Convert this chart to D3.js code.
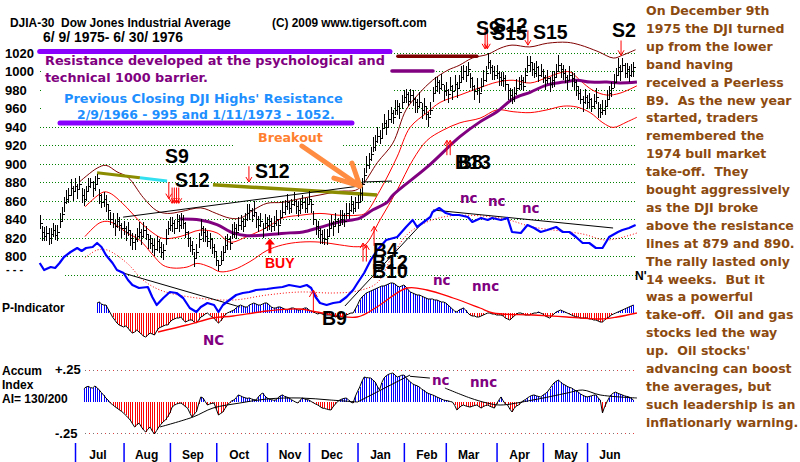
<!DOCTYPE html>
<html>
<head>
<meta charset="utf-8">
<script src="https://cdn.jsdelivr.net/npm/d3@7"></script>
<style>
  body { margin: 0; background: #fff; }
  svg { display: block; }
</style>
</head>
<body>
<div id="chart"></div>
<script>
// ---- data: DJIA daily bars, 6/9/1975 - 6/30/1976 ----
const monthNames = ['Jul', 'Aug', 'Sep', 'Oct', 'Nov', 'Dec', 'Jan', 'Feb', 'Mar', 'Apr', 'May', 'Jun'];
const monthDays = [16, 22, 21, 21, 23, 19, 22, 21, 19, 23, 21, 20, 22]; // trading days Jun75 .. Jun76
const priceTicks = [1020, 1000, 980, 960, 940, 920, 900, 880, 860, 840, 820, 800];

const closes = [
  836, 826, 822, 825, 820, 824, 828, 823, 826, 838, 845, 858, 862, 866, 873, 870,
  876, 872, 878, 866, 862, 870, 876, 880, 874, 878, 884, 866, 858, 862, 856, 850, 840, 836, 832, 838, 834, 830,
  830, 826, 828, 820, 815, 818, 822, 826, 822, 828, 824, 818, 814, 812, 808, 816, 810, 804, 806, 820, 830,
  834, 836, 830, 838, 834, 840, 836, 826, 820, 812, 808, 798, 804, 818, 830, 826, 822, 816, 818, 810, 805,
  796, 790, 796, 804, 812, 818, 814, 824, 830, 826, 834, 838, 832, 840, 846, 850, 844, 848, 840, 834, 838, 830, 836,
  834, 838, 832, 836, 840, 834, 842, 848, 854, 858, 852, 856, 860, 854, 850, 856, 858, 852, 856,
  862, 856, 840, 832, 828, 824, 820, 818, 822, 830, 836, 832, 838, 834, 840, 844, 838, 846, 850, 856, 852, 858,
  858, 868, 878, 888, 898, 905, 910, 918, 924, 930, 928, 938, 944, 940, 948, 955, 950, 958, 962, 956, 966,
  972, 975, 968, 974, 970, 966, 962, 966, 958, 962, 954, 950, 958, 976, 984, 988, 982, 986, 978,
  980, 975, 984, 978, 986, 982, 988, 994, 1000, 996, 1002, 992, 984, 978, 982, 976, 984, 990, 998, 1010, 1004, 1000, 996,
  998, 994, 990, 992, 986, 980, 974, 970, 976, 982, 986, 990, 984, 996, 1006, 1010, 1002, 998, 1004, 996, 1000,
  994, 990, 992, 986, 990, 994, 1000, 1006, 1002, 998, 994, 990, 996, 992, 988, 984, 976, 970, 966, 972,
  966, 970, 962, 968, 972, 960, 956, 958, 962, 970, 976, 982, 988, 996, 1004, 1000, 1006, 998, 1002, 996, 1000, 1004
];
const highs = [
  844, 832, 831, 832, 830, 830, 836, 834, 833, 847, 853, 864, 871, 873, 883, 876,
  884, 878, 887, 873, 872, 876, 884, 884, 881, 887, 889, 872, 867, 869, 866, 856, 848, 847, 839, 847, 842, 836,
  838, 832, 837, 827, 825, 824, 830, 837, 829, 837, 832, 824, 823, 819, 818, 822, 818, 815, 813, 829, 838,
  842, 842, 839, 845, 844, 846, 844, 837, 827, 821, 816, 804, 813, 825, 840, 832, 830, 827, 825, 819, 813,
  804, 796, 805, 811, 822, 824, 822, 835, 837, 835, 842, 844, 841, 847, 856, 856, 852, 859, 847, 843, 846, 836, 845,
  842, 844, 841, 843, 850, 840, 850, 859, 861, 867, 860, 862, 869, 861, 860, 862, 866, 863, 863,
  870, 862, 849, 839, 838, 830, 828, 829, 829, 839, 844, 838, 847, 841, 850, 850, 846, 857, 857, 865, 860, 864,
  866, 874, 884, 895, 908, 911, 918, 929, 931, 939, 936, 944, 953, 947, 958, 961, 958, 969, 969, 965, 974,
  980, 981, 977, 981, 980, 972, 970, 977, 965, 971, 962, 956, 967, 983, 994, 994, 990, 997, 985,
  988, 981, 993, 985, 996, 988, 996, 1005, 1007, 1005, 1010, 998, 993, 985, 992, 982, 992, 1001, 1005, 1019, 1012, 1006, 1005,
  1006, 1000, 999, 999, 996, 986, 982, 981, 983, 991, 994, 996, 993, 1003, 1016, 1016, 1010, 1009, 1011, 1005, 1008,
  1002, 996, 1001, 993, 1000, 1000, 1008, 1017, 1009, 1007, 1002, 996, 1005, 999, 998, 990, 984, 981, 973, 981,
  974, 976, 971, 975, 982, 966, 964, 969, 969, 979, 984, 988, 997, 1003, 1014, 1006, 1014, 1009, 1009, 1005, 1008, 1010
];
const lows = [
  829, 816, 816, 816, 812, 813, 821, 817, 816, 830, 838, 848, 856, 857, 865, 859,
  869, 862, 872, 857, 854, 859, 869, 874, 864, 870, 877, 856, 852, 853, 848, 839, 833, 830, 822, 830, 827, 820,
  823, 816, 822, 811, 807, 807, 815, 820, 812, 820, 817, 808, 808, 803, 800, 805, 803, 798, 796, 812, 823,
  827, 826, 824, 829, 826, 829, 829, 820, 810, 804, 801, 788, 798, 809, 822, 815, 815, 810, 808, 802, 798,
  789, 784, 790, 795, 804, 807, 807, 818, 820, 818, 827, 828, 826, 831, 838, 839, 837, 842, 830, 826, 831, 820, 830,
  827, 828, 826, 827, 832, 823, 835, 842, 844, 850, 845, 846, 854, 845, 842, 845, 851, 846, 846,
  855, 846, 834, 823, 820, 813, 813, 812, 812, 822, 829, 822, 832, 825, 832, 833, 831, 840, 840, 848, 845, 848,
  851, 858, 860, 879, 890, 894, 903, 912, 914, 922, 921, 928, 938, 931, 940, 944, 943, 952, 952, 948, 959,
  965, 965, 962, 965, 962, 955, 955, 960, 948, 954, 947, 940, 952, 967, 976, 977, 975, 980, 968,
  973, 965, 978, 969, 978, 971, 981, 988, 990, 988, 995, 982, 978, 969, 974, 965, 977, 984, 988, 1002, 997, 990, 990,
  991, 984, 984, 983, 978, 969, 967, 964, 966, 974, 979, 980, 978, 987, 998, 999, 995, 992, 994, 988, 993,
  987, 980, 986, 977, 982, 983, 993, 1000, 992, 990, 987, 980, 990, 983, 980, 973, 969, 964, 956, 964,
  959, 960, 956, 959, 964, 949, 949, 952, 952, 962, 969, 972, 982, 987, 996, 989, 999, 992, 992, 988, 993, 994
];

// bands on the price panel: [trading day, price]
const upperBand = [[18,880],[26,895],[30,898],[35,891],[40,885],[47,863],[53,849],[58,846],[64,848],[73,852],[80,846],[86,841],[91,841],[97,850],[103,857],[110,858],[118,862],[127,866],[136,870],[143,871],[146,876],[153,901],[160,922],[166,958],[172,976],[178,990],[185,1001],[190,1006],[196,1014],[203,1018],[209,1025],[214,1028],[222,1026],[230,1030],[239,1031],[245,1028],[253,1021],[260,1014],[264,1017],[270,1023]];
const redUpper = [[20.5,853],[28.7,869],[31.8,868],[39.6,852],[45.4,837],[51.3,825],[55.9,819],[63.6,821],[72.6,828],[80.3,825],[86.2,815],[93.9,821],[103,831],[110,841],[118,844],[127,846],[136,844],[143.8,844],[147.4,846],[154.2,871],[161.9,907],[167.8,939],[175.5,955],[181.4,966],[190.4,974],[199.5,982],[207.2,988],[214.5,990],[222.2,987],[229.9,993],[235.7,998],[240.3,999],[244.8,990],[250.7,979],[257,974],[262.9,976],[270.6,984]];
const redLower = [[20.5,821],[27.3,836],[31.8,837],[39.6,825],[45.4,817],[51.3,801],[55.9,790],[60.4,787],[66.7,788],[71.3,792],[77.2,788],[81.7,783],[87.6,785],[95.3,794],[103,806],[110,812],[118,815],[127,815],[136,812],[143.8,810],[147.4,812],[154.2,839],[161.9,871],[169.1,904],[175.5,925],[182.7,936],[190.4,944],[199.5,949],[207.2,958],[214.5,956],[222.2,955],[229.9,958],[237.2,962],[243.5,961],[249.4,955],[255.2,944],[259.8,939],[266.1,945],[270.6,950]];
const ma65 = [[63.6,840],[72.6,839],[80.3,834],[87.6,825],[93.9,822],[103,823],[113.4,825],[119.3,826],[127,831],[136,837],[145.1,841],[151,850],[157.4,858],[160.1,866],[175.5,896],[190.4,929],[199.5,945],[207.2,956],[214.5,970],[222.2,977],[229.9,985],[237.2,988],[243.5,990],[249.4,988],[257,988],[262.9,987],[270.6,988]];
const resistA = [[26,890],[45.4,884.5]];
const resistCyan = [[45.4,884.5],[57.7,881]];
const resistB = [[78.5,877],[127,870],[152.8,866]];
const trendHighs = [[37.8,842],[146,876]];
const breakoutLine = [[146,880],[159.6,881]];
const levelLines = [
  { i0: 0, i1: 158.7, p: 1021, color: '#8a00ff', w: 5 },
  { i0: 9.2, i1: 141.5, p: 943.8, color: '#8a00ff', w: 5 },
  { i0: 162.3, i1: 198.1, p: 1016, color: '#800000', w: 3.5 },
  { i0: 159.6, i1: 178.2, p: 1000, color: '#800080', w: 3.5 }
];

// blue strength line under the price bars: [trading day, value]
const blueLine = [[0,37],[2,30],[5,33],[7,32],[9,37],[11,43],[14,48],[17,52],[19,49],[21,52],[24,53],[26,57],[28,53],[30,45],[33,37],[35,30],[38,27],[40,20],[42,15],[45,12],[49,13],[51,3],[53,-5],[56,2],[59,8],[62,7],[65,2],[68,-8],[71,-12],[73,-7],[76,-3],[79,-5],[81,-12],[83,-5],[86,0],[89,5],[92,7],[95,8],[98,10],[103,11],[106,12],[110,13],[113,15],[118,13],[121,15],[123,12],[125,3],[127,-3],[130,-5],[133,-3],[136,-2],[139,3],[142,10],[144,17],[147,27],[150,40],[153,50],[157,60],[162,63],[166,73],[169,80],[171,73],[174,78],[177,83],[178,88],[181,92],[184,87],[187,85],[190,85],[194,83],[196,78],[200,82],[203,80],[205,82],[209,80],[212,82],[214,68],[218,67],[221,75],[224,72],[227,68],[230,70],[234,73],[237,68],[240,68],[243,63],[246,57],[249,57],[252,52],[255,52],[258,63],[262,68],[264,70],[267,72],[270,75]];
const blueMA = [[20.5,42],[26,50],[30.5,50],[39.5,37],[46.8,20],[54.5,10],[68,3],[87.6,0],[103,5],[118,8],[133,7],[143.8,9],[152.8,17],[160,45],[167.8,68],[182.7,83],[208.6,82],[223.5,73],[246,66],[256.7,60],[270.6,67]];
const blueTrends = [
  [[37.8,27],[90.8,-7]],
  [[138.3,-6],[174.6,80]],
  [[178.2,90],[259.8,72]]
];

// P-Indicator, daily from trading day 26
const pStart = 26;
const pInd = [
  10, 11, 9, 8, 8, 4, 0, -4, -7, -10,
  -12, -13, -14, -13, -15, -18, -20, -19, -17, -19,
  -21, -23, -24, -22, -20, -21, -22, -18, -15, -14,
  -13, -12, -12, -9, -7, -6, -5, -5, -4, -7,
  -9, -8, -7, -7, -9, -10, -7, -4, -3, -1,
  0, -2, -4, -5, -8, -10, -8, -5, -2, 0,
  1, 2, 3, 5, 7, 8, 7, 6, 6, 8,
  9, 10, 9, 8, 8, 9, 10, 10, 8, 6,
  5, 5, 6, 6, 5, 4, 3, 4, 5, 5,
  4, 3, 3, 4, 5, 5, 3, 2, 1, 0,
  -1, 0, -1, -2, -2, -2, -2, -3, -4, -3,
  -4, -4, -3, -2, -1, 0, 0, 4, 8, 13,
  16, 18, 20, 21, 22, 23, 24, 25, 26, 27,
  27, 28, 29, 30, 30, 29, 27, 26, 27, 28,
  26, 23, 21, 20, 19, 18, 18, 17, 16, 15,
  14, 14, 14, 13, 13, 12, 11, 11, 10, 8,
  6, 4, 2, 1, 3, 4, 5, 3, 0, -2,
  -3, -3, -4, -4, -3, -2, -1, 0, 0, -1,
  -1, -2, -2, -2, -3, -5, -6, -7, -5, -3,
  -1, 0, 0, -1, -2, -2, -2, -1, 0, 0,
  1, 0, -1, -3, -4, -5, -3, -1, 1, 2,
  3, 2, 1, 0, -1, -2, -3, -4, -4, -5,
  -5, -5, -5, -6, -6, -7, -7, -8, -9, -9,
  -7, -5, -4, -2, -1, 0, 1, 2, 3, 4,
  5, 6, 7, 8
];
const pIndMA = [[53.6,-19],[66.7,-12],[78.5,-5],[87.6,-3],[103,2],[118,4],[125.6,1],[143.8,-4],[152.8,6],[166.4,25],[175.5,23],[187.3,15],[199.5,5],[205.4,0],[223.5,-2],[238.9,-4],[253.9,-6],[261.6,-4],[270.6,0]];

// Accumulation index (x1000), daily from trading day 20
const accStart = 20;
const accum = [
  100, 115, 120, 110, 107, 123, 110, 91, 70, 50,
  28, 10, -12, -25, -40, -52, -65, -78, -91, -110,
  -128, -147, -175, -202, -185, -171, -200, -225, -242, -220,
  -202, -235, -258, -230, -202, -180, -160, -147, -120, -91,
  -44, -30, -20, -15, -12, -25, -40, -52, -90, -123,
  -100, -83, -20, 36, 28, 0, -28, -20, -15, -12,
  -60, -107, -95, -83, -55, -28, -10, 5, 12, 30,
  52, 45, 36, 30, 25, 28, 20, 15, 12, 35,
  55, 67, 45, 28, 20, 15, 10, 12, 30, 45,
  52, 40, 35, 28, 15, 5, -5, -12, 10, 28,
  20, 15, 12, 0, -10, -20, -28, -40, -52, -55,
  -60, -65, -67, -40, -20, 0, 12, 20, 25, 28,
  10, -5, -12, 40, 80, 115, 160, 194, 190, 188,
  186, 170, 155, 120, 91, 150, 186, 205, 215, 222,
  226, 210, 194, 200, 208, 210, 190, 170, 155, 140,
  131, 125, 115, 100, 88, 75, 65, 58, 52, 45,
  35, 28, 20, 12, 8, 5, 0, -4, -30, -67,
  -50, -35, -28, -35, -40, -44, -38, -32, -28, -40,
  -52, -40, -32, -28, -38, -45, -52, -20, 10, 36,
  5, -20, -28, -60, -83, -55, -35, -28, -10, 5,
  15, 28, 40, 48, 52, 45, 40, 36, 50, 62,
  75, 100, 125, 147, 160, 170, 155, 140, 131, 120,
  112, 107, 95, 85, 75, 60, 50, 42, 36, 40,
  45, 50, 52, 30, 10, -91, -40, -4, 30, 55,
  68, 75, 65, 58, 52, 45, 40, 36, 25, 12
];
const accMA = [[54.5,-202],[69.5,-123],[78.5,-52],[90.7,-12],[103,20],[118,28],[131.5,12],[144,-4]];
const accMA2 = [[183.6,107],[195,28],[202.7,-12],[208.6,-28],[223.5,12],[238.9,67],[246,91],[253.9,52],[270.6,28]];
const accTrends = [[[144,-4],[167.8,210]], [[167.8,200],[176.8,186]]];

// signals
const downArrows = [
  { i: 58.5, from: 880, to: 862 }, { i: 60, from: 874, to: 857 }, { i: 61, from: 874, to: 857 },
  { i: 62, from: 874, to: 857 }, { i: 63, from: 874, to: 857 },
  { i: 94.8, from: 897, to: 880 },
  { i: 201.8, from: 1047, to: 1024 }, { i: 202.8, from: 1047, to: 1024 },
  { i: 221.2, from: 1044, to: 1028 },
  { i: 263.4, from: 1033, to: 1017 }
];
const upArrows = [
  { i: 146.5, from: 794, to: 814 }, { i: 148, from: 794, to: 812 }, { i: 151.5, from: 811, to: 832 },
  { i: 184.5, from: 909, to: 925 }, { i: 186, from: 909, to: 925 }
];
const breakoutArrow = [[[118.8,918.9],[145.1,875.7]], [[145.1,875.7],[133.3,884.3]], [[145.1,875.7],[141.5,900.5]]];

const noteLines = [
  'On December 9th', '1975 the DJI turned', 'up from the lower', 'band having',
  'received a Peerless', 'B9.  As the new year', 'started, traders', 'remembered the',
  '1974 bull market', 'take-off.  They', 'bought aggressively', 'as the DJI broke',
  'above the resistance', 'lines at 879 and 890.', 'The rally lasted only', '14 weeks.  But it',
  'was a powerful', 'take-off.  Oil and gas', 'stocks led the way', "up.  Oil stocks'",
  'advancing can boost', 'the averages, but', 'such leadership is an', 'inflationarly warning.'
];

// ---- chart ----
const width = 800, height = 462;
const SANS = 'Liberation Sans, Arial, sans-serif';
const WIDE = 'DejaVu Sans, Verdana, sans-serif';

const x = d3.scaleLinear().domain([0, 270]).range([39.7, 635.6]);
const y = d3.scaleLinear().domain([800, 1020]).range([256, 52.5]);
const yBlue = d3.scaleLinear().domain([0, 100]).range([300, 200]);
const yP = d3.scaleLinear().domain([-40, 40]).range([353, 273]);
const yAcc = d3.scaleLinear().domain([-250, 250]).range([433, 370]);
const px = i => Math.round(x(i)) + 0.5;

const svg = d3.select('#chart').append('svg')
    .attr('width', width)
    .attr('height', height)
    .style('font-family', SANS);

svg.append('rect').attr('width', width).attr('height', height).attr('fill', '#fff');

function fitText(sel, w) {
    const cur = sel.node().getComputedTextLength();
    if (cur > 0) sel.attr('font-size', parseFloat(sel.attr('font-size')) * w / cur);
    return sel;
}

// price grid
const gridVals = d3.range(780, 1021, 20);
svg.append('g').selectAll('line').data(gridVals).join('line')
    .attr('x1', d => d === 780 ? 65 : 40).attr('x2', 636)
    .attr('y1', d => Math.round(y(d)) + 0.5).attr('y2', d => Math.round(y(d)) + 0.5)
    .attr('stroke', '#008000').attr('stroke-dasharray', '1,2');

// white box behind resistance notes
svg.append('rect').attr('x', 42).attr('y', 56).attr('width', 351).attr('height', 62).attr('fill', '#fff');
svg.append('rect').attr('x', 233).attr('y', 129).attr('width', 110).attr('height', 18).attr('fill', '#fff');

// y labels
svg.append('g').selectAll('text').data(priceTicks).join('text')
    .attr('x', 5).attr('y', d => y(d) + 5)
    .attr('font-size', 13).attr('font-weight', 'bold')
    .text(d => d);
svg.append('text').attr('x', 6).attr('y', 273).attr('font-size', 11).attr('font-weight', 'bold').text('- - -');

const lineP = d3.line().x(d => x(d[0])).y(d => y(d[1]));
const curveP = d3.line().curve(d3.curveCatmullRom).x(d => x(d[0])).y(d => y(d[1]));

// bands and moving average
svg.append('path').attr('d', curveP(upperBand)).attr('fill', 'none').attr('stroke', '#800000');
svg.append('path').attr('d', curveP(redUpper)).attr('fill', 'none').attr('stroke', '#ff0000');
svg.append('path').attr('d', curveP(redLower)).attr('fill', 'none').attr('stroke', '#ff0000');
svg.append('path').attr('d', lineP(resistA)).attr('stroke', '#8c8c00').attr('stroke-width', 3);
svg.append('path').attr('d', lineP(resistCyan)).attr('stroke', '#33e0f0').attr('stroke-width', 3);
svg.append('path').attr('d', lineP(resistB)).attr('fill', 'none').attr('stroke', '#8c8c00').attr('stroke-width', 3.5);
svg.append('path').attr('d', lineP(trendHighs)).attr('stroke', '#000');
svg.append('path').attr('d', lineP(breakoutLine)).attr('stroke', '#000');
svg.append('path').attr('d', curveP(ma65)).attr('fill', 'none').attr('stroke', '#800080').attr('stroke-width', 3);

// level lines
svg.append('g').selectAll('line').data(levelLines).join('line')
    .attr('x1', d => x(d.i0)).attr('x2', d => x(d.i1))
    .attr('y1', d => y(d.p)).attr('y2', d => y(d.p))
    .attr('stroke', d => d.color).attr('stroke-width', d => d.w).attr('stroke-linecap', 'round');

// price bars
const bars = svg.append('g').attr('stroke', '#000').attr('shape-rendering', 'crispEdges');
bars.selectAll('line.hl').data(closes).join('line').attr('class', 'hl')
    .attr('x1', (d, i) => px(i)).attr('x2', (d, i) => px(i))
    .attr('y1', (d, i) => y(highs[i])).attr('y2', (d, i) => y(lows[i]));
bars.selectAll('line.cl').data(closes).join('line').attr('class', 'cl')
    .attr('x1', (d, i) => px(i)).attr('x2', (d, i) => px(i) + 2)
    .attr('y1', d => Math.round(y(d)) + 0.5).attr('y2', d => Math.round(y(d)) + 0.5);

// blue line area
const lineB = d3.line().x(d => x(d[0])).y(d => yBlue(d[1]));
svg.append('path').attr('d', d3.line().curve(d3.curveCatmullRom).x(d => x(d[0])).y(d => yBlue(d[1]))(blueMA))
    .attr('fill', 'none').attr('stroke', '#ff0000').attr('stroke-dasharray', '1,2');
blueTrends.forEach(t => svg.append('path').attr('d', lineB(t)).attr('stroke', '#000'));
svg.append('path').attr('d', lineB(blueLine)).attr('fill', 'none')
    .attr('stroke', '#0000ff').attr('stroke-width', 2.2).attr('stroke-linejoin', 'round');

// P-Indicator
const pG = svg.append('g').attr('shape-rendering', 'crispEdges');
pG.selectAll('line').data(pInd).join('line')
    .attr('x1', (d, k) => px(pStart + k)).attr('x2', (d, k) => px(pStart + k))
    .attr('y1', yP(0)).attr('y2', d => yP(d))
    .attr('stroke', d => d >= 0 ? '#0000ff' : '#ff0000');
svg.append('path')
    .attr('d', d3.line().x((d, k) => x(pStart + k)).y(d => yP(d))(pInd))
    .attr('fill', 'none').attr('stroke', '#000');
svg.append('path')
    .attr('d', d3.line().curve(d3.curveCatmullRom).x(d => x(d[0])).y(d => yP(d[1]))(pIndMA))
    .attr('fill', 'none').attr('stroke', '#ff0000').attr('stroke-width', 1.3);

// Accumulation index
[250, -250].forEach(v => {
    svg.append('line').attr('x1', 85).attr('x2', 636)
        .attr('y1', Math.round(yAcc(v)) + 0.5).attr('y2', Math.round(yAcc(v)) + 0.5)
        .attr('stroke', '#777').attr('stroke-dasharray', '1,7');
    svg.append('line').attr('x1', 89).attr('x2', 636)
        .attr('y1', Math.round(yAcc(v)) + 0.5).attr('y2', Math.round(yAcc(v)) + 0.5)
        .attr('stroke', '#e04040').attr('stroke-dasharray', '1,7');
});
const aG = svg.append('g').attr('shape-rendering', 'crispEdges');
aG.selectAll('line').data(accum).join('line')
    .attr('x1', (d, k) => px(accStart + k)).attr('x2', (d, k) => px(accStart + k))
    .attr('y1', yAcc(0)).attr('y2', d => yAcc(d))
    .attr('stroke', d => d >= 0 ? '#0000ff' : '#ff0000');
svg.append('path')
    .attr('d', d3.line().x((d, k) => x(accStart + k)).y(d => yAcc(d))(accum))
    .attr('fill', 'none').attr('stroke', '#000');
const lineA = d3.line().curve(d3.curveCatmullRom).x(d => x(d[0])).y(d => yAcc(d[1]));
svg.append('path').attr('d', lineA(accMA)).attr('fill', 'none').attr('stroke', '#000');
svg.append('path').attr('d', lineA(accMA2)).attr('fill', 'none').attr('stroke', '#000');
accTrends.forEach(t => svg.append('path').attr('d', d3.line().x(d => x(d[0])).y(d => yAcc(d[1]))(t)).attr('stroke', '#000'));

// month axis
const monthStarts = d3.cumsum(monthDays).slice(0, 12);
svg.append('g').attr('transform', 'translate(0,443)')
    .call(d3.axisBottom(x).tickValues(monthStarts).tickSize(19).tickFormat(''))
    .call(g => g.select('.domain').remove())
    .call(g => g.selectAll('.tick line').attr('stroke', '#0000ff').attr('stroke-width', 1.5));
svg.append('g').selectAll('text').data(monthStarts).join('text')
    .attr('x', d => x(d) + 23).attr('y', 459)
    .attr('text-anchor', 'middle').attr('font-size', 12).attr('font-weight', 'bold')
    .text((d, k) => monthNames[k]);

// panel labels
const label = (tx, ty, s, size, color, fam) => svg.append('text')
    .attr('x', tx).attr('y', ty).attr('font-size', size).attr('font-weight', 'bold')
    .attr('fill', color || '#000').attr('font-family', fam || SANS)
    .style('white-space', 'pre').text(s);
label(2, 312, 'P-Indicator', 12);
label(2, 375, 'Accum', 12);
label(2, 389, 'Index', 12);
label(2, 403, 'AI= 130/200', 12);
label(55, 374, '+.25', 13);
label(55, 438, '-.25', 13);

// header
fitText(label(10, 27, 'DJIA-30  Dow Jones Industrial Average', 12), 221);
fitText(label(272, 27, '(C) 2009 www.tigersoft.com', 12), 155);
fitText(label(43, 42, '6/ 9/ 1975- 6/ 30/ 1976', 12), 140);

// resistance notes
fitText(label(45, 65, 'Resistance developed at the psychological and', 13, '#800080', WIDE), 340);
fitText(label(45, 82, 'technical 1000 barrier.', 13, '#800080', WIDE), 163);
fitText(label(64, 103, "Previous Closing DJI Highs' Resistance", 13, '#1e8fff', WIDE), 279);
fitText(label(77, 119, '2/9/1966 - 995 and 1/11/1973 - 1052.', 13, '#1e8fff', WIDE), 258);
fitText(label(258, 142, 'Breakout', 13, '#ff7f30', WIDE), 65);

// breakout arrow
breakoutArrow.forEach(s => svg.append('path').attr('d', lineP(s))
    .attr('stroke', '#ff8c40').attr('stroke-width', 5).attr('stroke-linecap', 'round'));

// signal arrows
const arrowG = svg.append('g').attr('stroke', '#ff0000').attr('fill', 'none');
downArrows.forEach(a => {
    const ax = x(a.i), y0 = y(a.from), y1 = y(a.to);
    arrowG.append('path').attr('d', `M${ax},${y0}V${y1}M${ax - 3},${y1 - 5}L${ax},${y1}L${ax + 3},${y1 - 5}`);
});
upArrows.forEach(a => {
    const ax = x(a.i), y0 = y(a.from), y1 = y(a.to);
    arrowG.append('path').attr('d', `M${ax},${y0}V${y1}M${ax - 3},${y1 + 5}L${ax},${y1}L${ax + 3},${y1 + 5}`);
});
// B9 arrow in the P-Indicator panel
{
    const ax = x(124), y0 = yP(0), y1 = yP(23);
    arrowG.append('path').attr('d', `M${ax},${y0}V${y1}M${ax - 4},${y1 + 7}L${ax},${y1}L${ax + 4},${y1 + 7}`);
}
// BUY arrow
{
    const ax = x(104.3), y0 = y(803), y1 = y(819);
    svg.append('path').attr('d', `M${ax - 1.5},${y0}V${y1 + 6}H${ax - 5}L${ax},${y1}L${ax + 5},${y1 + 6}H${ax + 1.5}V${y0}Z`)
        .attr('fill', '#ff0000');
}

// signal labels
const sig = (tx, ty, s) => label(tx, ty, s, 19.5);
sig(165, 163, 'S9');
sig(175, 187, 'S12');
sig(255, 178, 'S12');
sig(476, 35, 'S9');
sig(493, 32, 'S12');
sig(492, 40, 'S15');
sig(533, 39, 'S15');
sig(612, 37, 'S2');
sig(373, 257, 'B4');
sig(372, 269, 'B12');
sig(372, 278, 'B10');
sig(458, 169, 'B8');
sig(455, 169, 'B13');
sig(322, 325, 'B9');
label(265, 268, 'BUY', 14, '#ff0000');
label(635, 280, "N'", 12);

// non-confirmations
const nc = (tx, ty, s, size) => label(tx, ty, s, size || 13.5, '#800080', WIDE);
nc(460, 203, 'nc');
nc(488, 206, 'nc');
nc(522, 213, 'nc');
nc(433, 285, 'nc');
nc(472, 291, 'nnc');
nc(432, 385, 'nc');
nc(470, 387, 'nnc');
nc(203, 345, 'NC', 13.5);

// commentary
const notes = svg.append('g').attr('fill', '#8c4a0f').attr('font-family', WIDE).attr('font-weight', 'bold');
const noteText = notes.selectAll('text').data(noteLines).join('text')
    .attr('x', 646).attr('y', (d, k) => 15 + k * 17.9)
    .attr('font-size', 13).style('white-space', 'pre')
    .text(d => d);
const ref = noteText.filter(d => d === 'above the resistance').node().getComputedTextLength();
noteText.attr('font-size', 13 * 148 / ref);
</script>
</body>
</html>
